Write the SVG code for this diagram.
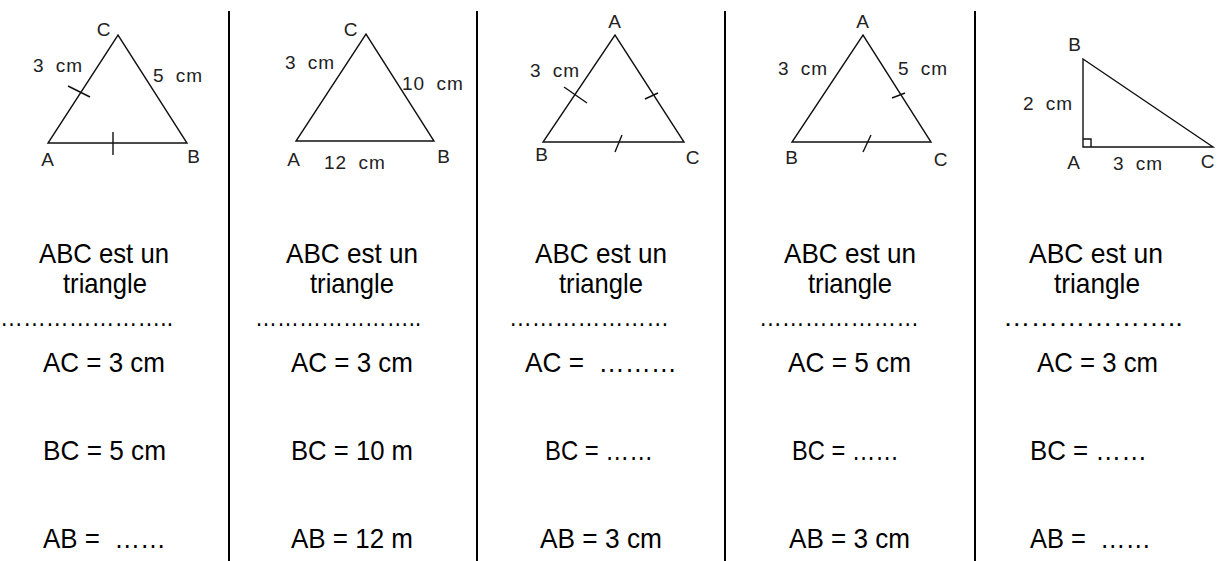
<svg xmlns="http://www.w3.org/2000/svg" width="1221" height="561" viewBox="0 0 1221 561">
<style>
.t{font-family:"Liberation Sans",Arial,sans-serif;font-size:28px;fill:#000}
.d{font-family:"Liberation Sans",Arial,sans-serif;font-size:26px;fill:#000}
.l{font-family:"Liberation Sans",Arial,sans-serif;font-size:19px;fill:#222;letter-spacing:1px;word-spacing:5px}
.s{fill:none;stroke:#111;stroke-width:1.4}
.sep{stroke:#000;stroke-width:2}
</style>
<rect width="1221" height="561" fill="#fff"/>
<g id="separators">
<line class="sep" x1="229" y1="11" x2="229" y2="561"/>
<line class="sep" x1="477" y1="11" x2="477" y2="561"/>
<line class="sep" x1="725" y1="11" x2="725" y2="561"/>
<line class="sep" x1="975" y1="11" x2="975" y2="561"/>
</g>
<g id="fig1">
<polygon class="s" points="48,143 187,143 118,35"/>
<line class="s" x1="68" y1="86" x2="90" y2="97"/>
<line class="s" x1="113" y1="132" x2="113" y2="155"/>
<text class="l" x="104" y="36" text-anchor="middle">C</text>
<text class="l" x="48" y="166" text-anchor="middle">A</text>
<text class="l" x="194" y="163" text-anchor="middle">B</text>
<text class="l" x="33" y="72">3 cm</text>
<text class="l" x="153" y="82">5 cm</text>
</g>
<g id="fig2">
<polygon class="s" points="296,141 434,141 366,34"/>
<text class="l" x="351" y="36" text-anchor="middle">C</text>
<text class="l" x="294" y="166" text-anchor="middle">A</text>
<text class="l" x="444" y="163" text-anchor="middle">B</text>
<text class="l" x="285" y="69">3 cm</text>
<text class="l" x="402" y="90">10 cm</text>
<text class="l" x="324" y="169">12 cm</text>
</g>
<g id="fig3">
<polygon class="s" points="543,142 684,142 615,35"/>
<line class="s" x1="564" y1="87" x2="587" y2="103"/>
<line class="s" x1="645" y1="99" x2="658" y2="93"/>
<line class="s" x1="615" y1="152" x2="622" y2="135"/>
<text class="l" x="615" y="28" text-anchor="middle">A</text>
<text class="l" x="542" y="161" text-anchor="middle">B</text>
<text class="l" x="693" y="164" text-anchor="middle">C</text>
<text class="l" x="530" y="77">3 cm</text>
</g>
<g id="fig4">
<polygon class="s" points="792,142 931,142 863,35"/>
<line class="s" x1="892" y1="98" x2="905" y2="93"/>
<line class="s" x1="863" y1="152" x2="871" y2="135"/>
<text class="l" x="863" y="28" text-anchor="middle">A</text>
<text class="l" x="792" y="164" text-anchor="middle">B</text>
<text class="l" x="941" y="166" text-anchor="middle">C</text>
<text class="l" x="778" y="75">3 cm</text>
<text class="l" x="898" y="75">5 cm</text>
</g>
<g id="fig5">
<polygon class="s" points="1083,147 1083,59 1213,147"/>
<polyline class="s" points="1083,139 1091,139 1091,147"/>
<text class="l" x="1075" y="51" text-anchor="middle">B</text>
<text class="l" x="1074" y="169" text-anchor="middle">A</text>
<text class="l" x="1208" y="168" text-anchor="middle">C</text>
<text class="l" x="1023" y="110">2 cm</text>
<text class="l" x="1113" y="170">3 cm</text>
</g>
<g id="col1">
<text class="t" x="39" y="263" textLength="130" lengthAdjust="spacingAndGlyphs">ABC est un</text>
<text class="t" x="63" y="293" textLength="84" lengthAdjust="spacingAndGlyphs">triangle</text>
<text class="d" x="0" y="326" textLength="173" lengthAdjust="spacingAndGlyphs">…………………..</text>
<text class="t" x="43" y="372" textLength="122" lengthAdjust="spacingAndGlyphs">AC = 3 cm</text>
<text class="t" x="43" y="460" textLength="123" lengthAdjust="spacingAndGlyphs">BC = 5 cm</text>
<text class="t" x="43" y="548" textLength="123" lengthAdjust="spacingAndGlyphs" xml:space="preserve">AB =  ……</text>
</g>
<g id="col2">
<text class="t" x="286" y="263" textLength="132" lengthAdjust="spacingAndGlyphs">ABC est un</text>
<text class="t" x="310" y="293" textLength="84" lengthAdjust="spacingAndGlyphs">triangle</text>
<text class="d" x="255" y="326" textLength="166" lengthAdjust="spacingAndGlyphs">…………………..</text>
<text class="t" x="291" y="372" textLength="122" lengthAdjust="spacingAndGlyphs">AC = 3 cm</text>
<text class="t" x="291" y="460" textLength="122" lengthAdjust="spacingAndGlyphs">BC = 10 m</text>
<text class="t" x="291" y="548" textLength="122" lengthAdjust="spacingAndGlyphs">AB = 12 m</text>
</g>
<g id="col3">
<text class="t" x="535" y="263" textLength="132" lengthAdjust="spacingAndGlyphs">ABC est un</text>
<text class="t" x="559" y="293" textLength="84" lengthAdjust="spacingAndGlyphs">triangle</text>
<text class="d" x="509" y="326" textLength="160" lengthAdjust="spacingAndGlyphs">…………………</text>
<text class="t" x="525" y="372" textLength="152" lengthAdjust="spacingAndGlyphs" xml:space="preserve">AC =  ………</text>
<text class="t" x="545" y="460" textLength="108" lengthAdjust="spacingAndGlyphs">BC = ……</text>
<text class="t" x="540" y="548" textLength="122" lengthAdjust="spacingAndGlyphs">AB = 3 cm</text>
</g>
<g id="col4">
<text class="t" x="784" y="263" textLength="132" lengthAdjust="spacingAndGlyphs">ABC est un</text>
<text class="t" x="808" y="293" textLength="84" lengthAdjust="spacingAndGlyphs">triangle</text>
<text class="d" x="759" y="326" textLength="160" lengthAdjust="spacingAndGlyphs">…………………</text>
<text class="t" x="788" y="372" textLength="123" lengthAdjust="spacingAndGlyphs">AC = 5 cm</text>
<text class="t" x="792" y="460" textLength="107" lengthAdjust="spacingAndGlyphs">BC = ……</text>
<text class="t" x="789" y="548" textLength="121" lengthAdjust="spacingAndGlyphs">AB = 3 cm</text>
</g>
<g id="col5">
<text class="t" x="1029" y="263" textLength="134" lengthAdjust="spacingAndGlyphs">ABC est un</text>
<text class="t" x="1054" y="293" textLength="86" lengthAdjust="spacingAndGlyphs">triangle</text>
<text class="d" x="1003" y="326" textLength="180" lengthAdjust="spacingAndGlyphs">………………..</text>
<text class="t" x="1037" y="372" textLength="121" lengthAdjust="spacingAndGlyphs">AC = 3 cm</text>
<text class="t" x="1030" y="460" textLength="117" lengthAdjust="spacingAndGlyphs">BC = ……</text>
<text class="t" x="1030" y="548" textLength="121" lengthAdjust="spacingAndGlyphs" xml:space="preserve">AB =  ……</text>
</g>
</svg>
